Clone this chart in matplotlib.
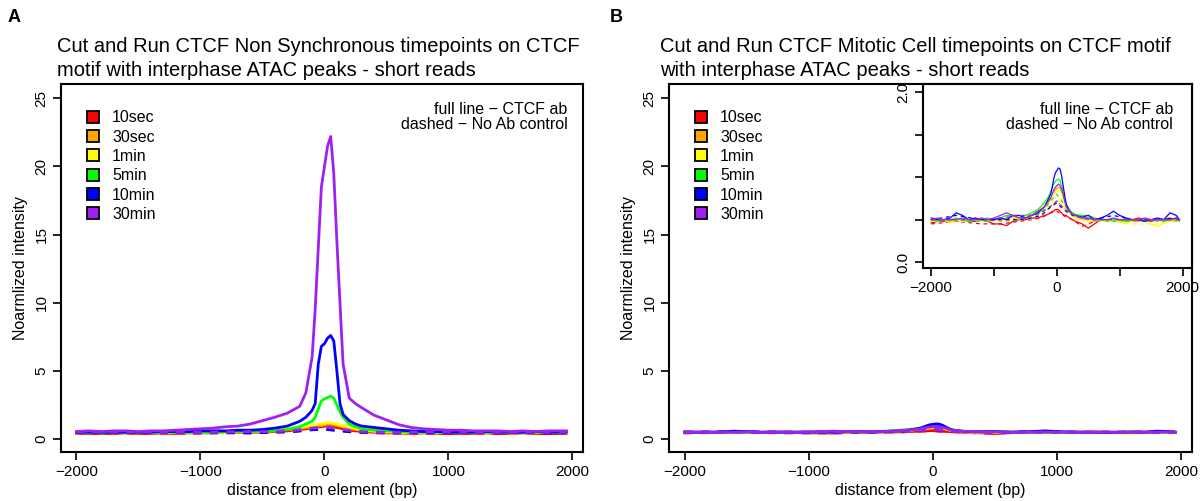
import matplotlib
matplotlib.use("Agg")
import matplotlib.pyplot as plt
from matplotlib.lines import Line2D

plt.rcParams['font.family'] = ['Liberation Sans', 'DejaVu Sans']

# bin positions (bp from motif)
X = [-2000, -1900, -1800, -1700, -1600, -1500, -1400, -1300, -1200, -1100, -1000, -900, -800, -700,
     -600, -500, -400, -300, -200, -150, -100, -75, -50, -25, 0, 25, 50, 75, 100, 125, 150,
     200, 250, 300, 400, 500, 600, 700, 800, 900, 1000, 1100, 1200, 1300, 1400, 1500, 1600, 1700,
     1800, 1900, 1950]
# coarser bins for the no antibody controls
XC = [-2000, -1600, -1200, -900, -600, -400, -250, -100, 0, 100, 250, 400, 600, 900, 1200, 1600, 1950]

labels = ["10sec", "30sec", "1min", "5min", "10min", "30min"]
colors = ["#FF0000", "#FFA500", "#FFFF00", "#00FF00", "#0000FF", "#A020F0"]

# panel A - non synchronous, CTCF ab
ns_10sec = [0.4, 0.4, 0.4, 0.4, 0.45, 0.4, 0.4, 0.45, 0.4, 0.45, 0.45, 0.45, 0.5, 0.5, 0.5, 0.5, 0.55, 0.6, 0.7,
            0.75, 0.8, 0.85, 0.9, 0.9, 0.95, 0.95, 0.95, 0.9, 0.85, 0.8, 0.75,
            0.65, 0.6, 0.55,
            0.5, 0.45, 0.45, 0.4, 0.45, 0.4, 0.4, 0.4, 0.4, 0.45, 0.4, 0.4, 0.45, 0.4, 0.4, 0.4, 0.4]
ns_30sec = [0.45, 0.45, 0.5, 0.45, 0.5, 0.45, 0.5, 0.45, 0.5, 0.5, 0.5, 0.5, 0.5, 0.5, 0.55, 0.55, 0.6, 0.7, 0.8,
            0.85, 0.9, 0.95, 1.0, 1.0, 1.05, 1.1, 1.1, 1.05, 1.0, 0.95, 0.9,
            0.8, 0.7, 0.65,
            0.55, 0.5, 0.5, 0.45, 0.5, 0.45, 0.5, 0.45, 0.5, 0.45, 0.5, 0.45, 0.5, 0.45, 0.5, 0.45, 0.45]
ns_1min = [0.45, 0.5, 0.45, 0.5, 0.45, 0.5, 0.45, 0.5, 0.5, 0.5, 0.5, 0.5, 0.5, 0.55, 0.55, 0.6, 0.65, 0.75, 0.9,
           0.95, 1.0, 1.05, 1.1, 1.1, 1.15, 1.2, 1.2, 1.15, 1.1, 1.05, 1.0,
           0.9, 0.8, 0.7,
           0.6, 0.55, 0.5, 0.5, 0.5, 0.45, 0.5, 0.5, 0.45, 0.5, 0.5, 0.45, 0.5, 0.5, 0.5, 0.5, 0.5]
ns_5min = [0.5, 0.5, 0.45, 0.5, 0.5, 0.5, 0.5, 0.5, 0.5, 0.5, 0.5, 0.5, 0.55, 0.55, 0.55, 0.6, 0.6, 0.7, 0.9,
           1.1, 1.3, 1.6, 2.2, 2.8, 2.95, 3.05, 3.15, 3.0, 2.5, 2.0, 1.6,
           1.1, 0.9, 0.75,
           0.65, 0.6, 0.55, 0.5, 0.5, 0.5, 0.5, 0.5, 0.5, 0.5, 0.5, 0.5, 0.5, 0.5, 0.5, 0.5, 0.5]
ns_10min = [0.5, 0.5, 0.5, 0.5, 0.5, 0.5, 0.5, 0.55, 0.55, 0.55, 0.6, 0.6, 0.6, 0.65, 0.65, 0.7, 0.8, 0.95, 1.3,
            1.6, 2.1, 2.6, 5.5, 6.8, 7.0, 7.4, 7.6, 7.2, 5.0, 2.6, 1.8,
            1.35, 1.1, 0.95,
            0.85, 0.75, 0.65, 0.6, 0.55, 0.55, 0.5, 0.5, 0.5, 0.55, 0.5, 0.5, 0.5, 0.55, 0.5, 0.5, 0.55]
ns_30min = [0.55, 0.6, 0.55, 0.6, 0.6, 0.55, 0.6, 0.6, 0.65, 0.7, 0.75, 0.8, 0.9, 0.95, 1.1, 1.35, 1.6, 1.9, 2.4,
            3.4, 6.0, 9.5, 14.0, 18.5, 20.0, 21.5, 22.2, 19.5, 14.5, 10.0, 5.5,
            3.0, 2.6, 2.3,
            1.75, 1.4, 1.05, 0.85, 0.75, 0.7, 0.65, 0.65, 0.6, 0.6, 0.6, 0.55, 0.6, 0.55, 0.6, 0.6, 0.6]

# panel A - no antibody controls
ns_ctrl_10sec = [0.4, 0.42, 0.4, 0.45, 0.45, 0.5, 0.55, 0.7, 0.75, 0.65, 0.5, 0.45, 0.4, 0.42, 0.4, 0.45, 0.4]
ns_ctrl_30sec = [0.5, 0.45, 0.5, 0.48, 0.5, 0.55, 0.6, 0.75, 0.8, 0.7, 0.55, 0.5, 0.48, 0.5, 0.45, 0.5, 0.45]
ns_ctrl_1min = [0.45, 0.5, 0.45, 0.5, 0.5, 0.5, 0.58, 0.72, 0.85, 0.75, 0.55, 0.5, 0.5, 0.45, 0.5, 0.45, 0.5]
ns_ctrl_5min = [0.5, 0.48, 0.5, 0.45, 0.5, 0.55, 0.6, 0.7, 0.78, 0.68, 0.55, 0.5, 0.45, 0.5, 0.48, 0.5, 0.5]
ns_ctrl_10min = [0.45, 0.5, 0.48, 0.5, 0.45, 0.5, 0.55, 0.68, 0.72, 0.62, 0.5, 0.48, 0.5, 0.45, 0.5, 0.48, 0.45]
ns_ctrl_30min = [0.5, 0.52, 0.5, 0.5, 0.55, 0.55, 0.62, 0.8, 0.9, 0.75, 0.58, 0.5, 0.5, 0.52, 0.5, 0.5, 0.5]

# panel B - mitotic cells, CTCF ab
mi_10sec = [0.46, 0.48, 0.48, 0.5, 0.48, 0.5, 0.48, 0.48, 0.5, 0.48, 0.45, 0.45, 0.43, 0.48, 0.5, 0.5, 0.52, 0.52, 0.55,
            0.56, 0.58, 0.6, 0.6, 0.62, 0.62, 0.62, 0.6, 0.58, 0.56, 0.55, 0.55,
            0.52, 0.5, 0.48,
            0.45, 0.4, 0.45, 0.5, 0.5, 0.5, 0.48, 0.5, 0.5, 0.52, 0.5, 0.48, 0.5, 0.5, 0.52, 0.5, 0.5]
mi_30sec = [0.48, 0.5, 0.5, 0.48, 0.5, 0.5, 0.48, 0.5, 0.5, 0.48, 0.5, 0.5, 0.52, 0.52, 0.5, 0.55, 0.55, 0.6, 0.65,
            0.7, 0.75, 0.8, 0.83, 0.85, 0.87, 0.88, 0.87, 0.82, 0.75, 0.7, 0.65,
            0.58, 0.55, 0.52,
            0.5, 0.5, 0.48, 0.5, 0.48, 0.5, 0.5, 0.48, 0.5, 0.48, 0.5, 0.5, 0.48, 0.5, 0.5, 0.48, 0.5]
mi_1min = [0.5, 0.48, 0.5, 0.46, 0.5, 0.48, 0.5, 0.5, 0.48, 0.5, 0.5, 0.5, 0.5, 0.52, 0.52, 0.55, 0.55, 0.58, 0.62,
           0.68, 0.72, 0.78, 0.8, 0.82, 0.84, 0.85, 0.84, 0.8, 0.74, 0.68, 0.62,
           0.58, 0.55, 0.52,
           0.5, 0.48, 0.5, 0.48, 0.5, 0.5, 0.48, 0.45, 0.48, 0.5, 0.48, 0.45, 0.42, 0.46, 0.48, 0.5, 0.48]
mi_5min = [0.5, 0.48, 0.5, 0.5, 0.52, 0.5, 0.48, 0.5, 0.5, 0.52, 0.5, 0.52, 0.55, 0.55, 0.52, 0.55, 0.58, 0.62, 0.7,
           0.75, 0.82, 0.88, 0.92, 0.95, 0.97, 0.98, 0.96, 0.9, 0.82, 0.75, 0.68,
           0.62, 0.58, 0.56,
           0.55, 0.55, 0.52, 0.5, 0.5, 0.5, 0.5, 0.48, 0.5, 0.5, 0.48, 0.5, 0.5, 0.48, 0.5, 0.5, 0.48]
mi_10min = [0.52, 0.5, 0.5, 0.52, 0.58, 0.55, 0.5, 0.52, 0.5, 0.5, 0.5, 0.52, 0.5, 0.55, 0.55, 0.52, 0.55, 0.58, 0.65,
            0.72, 0.8, 0.88, 0.98, 1.05, 1.08, 1.11, 1.1, 1.02, 0.9, 0.78, 0.68,
            0.6, 0.56, 0.55,
            0.53, 0.55, 0.5, 0.52, 0.55, 0.6, 0.55, 0.52, 0.5, 0.5, 0.48, 0.5, 0.52, 0.5, 0.58, 0.55, 0.5]
mi_30min = [0.5, 0.52, 0.5, 0.5, 0.5, 0.52, 0.5, 0.5, 0.52, 0.5, 0.52, 0.55, 0.58, 0.55, 0.52, 0.52, 0.55, 0.6, 0.65,
            0.7, 0.75, 0.8, 0.85, 0.88, 0.9, 0.92, 0.9, 0.86, 0.8, 0.72, 0.65,
            0.6, 0.56, 0.55,
            0.52, 0.52, 0.5, 0.5, 0.5, 0.52, 0.5, 0.5, 0.5, 0.5, 0.52, 0.5, 0.5, 0.5, 0.5, 0.52, 0.5]

# panel B - no antibody controls
mi_ctrl_10sec = [0.45, 0.48, 0.45, 0.45, 0.48, 0.5, 0.52, 0.58, 0.6, 0.55, 0.5, 0.42, 0.48, 0.5, 0.48, 0.5, 0.5]
mi_ctrl_30sec = [0.5, 0.48, 0.5, 0.48, 0.5, 0.5, 0.55, 0.65, 0.72, 0.65, 0.55, 0.5, 0.48, 0.5, 0.48, 0.5, 0.48]
mi_ctrl_1min = [0.48, 0.5, 0.48, 0.5, 0.5, 0.52, 0.55, 0.68, 0.75, 0.66, 0.55, 0.5, 0.5, 0.48, 0.45, 0.45, 0.5]
mi_ctrl_5min = [0.5, 0.5, 0.48, 0.5, 0.5, 0.52, 0.58, 0.72, 0.8, 0.7, 0.56, 0.52, 0.5, 0.48, 0.5, 0.5, 0.5]
mi_ctrl_10min = [0.5, 0.55, 0.5, 0.5, 0.5, 0.52, 0.55, 0.65, 0.7, 0.62, 0.55, 0.52, 0.5, 0.55, 0.5, 0.5, 0.52]
mi_ctrl_30min = [0.5, 0.5, 0.5, 0.52, 0.55, 0.55, 0.58, 0.66, 0.72, 0.64, 0.56, 0.52, 0.5, 0.5, 0.5, 0.5, 0.5]

ns_ab = [ns_10sec, ns_30sec, ns_1min, ns_5min, ns_10min, ns_30min]
ns_ctrl = [ns_ctrl_10sec, ns_ctrl_30sec, ns_ctrl_1min, ns_ctrl_5min, ns_ctrl_10min, ns_ctrl_30min]
mi_ab = [mi_10sec, mi_30sec, mi_1min, mi_5min, mi_10min, mi_30min]
mi_ctrl = [mi_ctrl_10sec, mi_ctrl_30sec, mi_ctrl_1min, mi_ctrl_5min, mi_ctrl_10min, mi_ctrl_30min]

W, H = 1204, 501
fig = plt.figure(figsize=(W / 100, H / 100), dpi=100)

def px(x0, y0, x1, y1):
    # pixel box -> figure fraction
    return [x0 / W, 1 - y1 / H, (x1 - x0) / W, (y1 - y0) / H]

def style_axes(ax, fs=11, lw=1.5):
    for s in ax.spines.values():
        s.set_linewidth(lw)
    ax.tick_params(direction='out', length=6, width=1.2, labelsize=fs, pad=3)
    for t in ax.get_yticklabels():
        t.set_rotation(90)
        t.set_va('center')

def profiles(ax, ab, ctrl, lw_ab, lw_ctrl):
    for i in range(6):
        ax.plot(XC, ctrl[i], color=colors[i], lw=lw_ctrl, ls=(0, (3, 3)))
        ax.plot(X, ab[i], color=colors[i], lw=lw_ab)

NOTE = "full line \u2212 CTCF ab\ndashed \u2212 No Ab control"

def main_panel(box, ab, ctrl, title1, title2, tx, letter, lx, note=True):
    ax = fig.add_axes(px(*box))
    profiles(ax, ab, ctrl, 2.0, 2.0)
    ax.set_xlim(-2125, 2085)
    ax.set_ylim(-0.95, 26.05)
    ax.set_xticks([-2000, -1000, 0, 1000, 2000])
    ax.set_xticklabels(["\u22122000", "\u22121000", "0", "1000", "2000"])
    ax.set_yticks([0, 5, 10, 15, 20, 25])
    ax.set_xlabel("distance from element (bp)", fontsize=11.5, labelpad=3)
    ax.set_ylabel("Noarmlized intensity", fontsize=11.5, labelpad=5)
    style_axes(ax)
    handles = [Line2D([], [], marker='s', ls='none', mfc=c, mec='black', mew=1.3, ms=8.5)
               for c in colors]
    ax.legend(handles, labels, loc='upper left', bbox_to_anchor=(0.035, 0.950), frameon=False,
              fontsize=11.5, handlelength=0.73, handletextpad=0.82, labelspacing=0.27, borderpad=0)
    if note:
        ax.text(0.97, 0.910, NOTE, transform=ax.transAxes,
                ha='right', va='center', fontsize=11.5, linespacing=1.0)
    fig.text(tx / W, 1 - 47 / H, title1, fontsize=14.5, ha='left', va='center')
    fig.text(tx / W, 1 - 70 / H, title2, fontsize=14.5, ha='left', va='center')
    fig.text(lx / W, 1 - 18 / H, letter, fontsize=13, fontweight='bold', ha='left', va='center')
    return ax

main_panel((61, 84, 583, 452), ns_ab, ns_ctrl,
           "Cut and Run CTCF Non Synchronous timepoints on CTCF",
           "motif with interphase ATAC peaks - short reads", 57, "A", 8)
main_panel((669, 84, 1192, 452), mi_ab, mi_ctrl,
           "Cut and Run CTCF Mitotic Cell timepoints on CTCF motif",
           "with interphase ATAC peaks - short reads", 660, "B", 610, note=False)

# inset with zoomed y scale for mitotic profiles
ins = fig.add_axes(px(923, 84, 1192, 268))
profiles(ins, mi_ab, mi_ctrl, 0.9, 0.9)
ins.set_xlim(-2130, 2150)
ins.set_ylim(-0.07, 2.1)
ins.set_xticks([-2000, -1000, 0, 1000, 2000])
ins.set_xticklabels(["\u22122000", "", "0", "", "2000"])
ins.set_yticks([0, 0.5, 1.0, 1.5, 2.0])
ins.set_yticklabels(["0.0", "", "", "", "2.0"])
style_axes(ins)
ins.text(0.93, 0.82, NOTE, transform=ins.transAxes,
         ha='right', va='center', fontsize=11.5, linespacing=1.0)

fig.savefig("out.png", dpi=100)
